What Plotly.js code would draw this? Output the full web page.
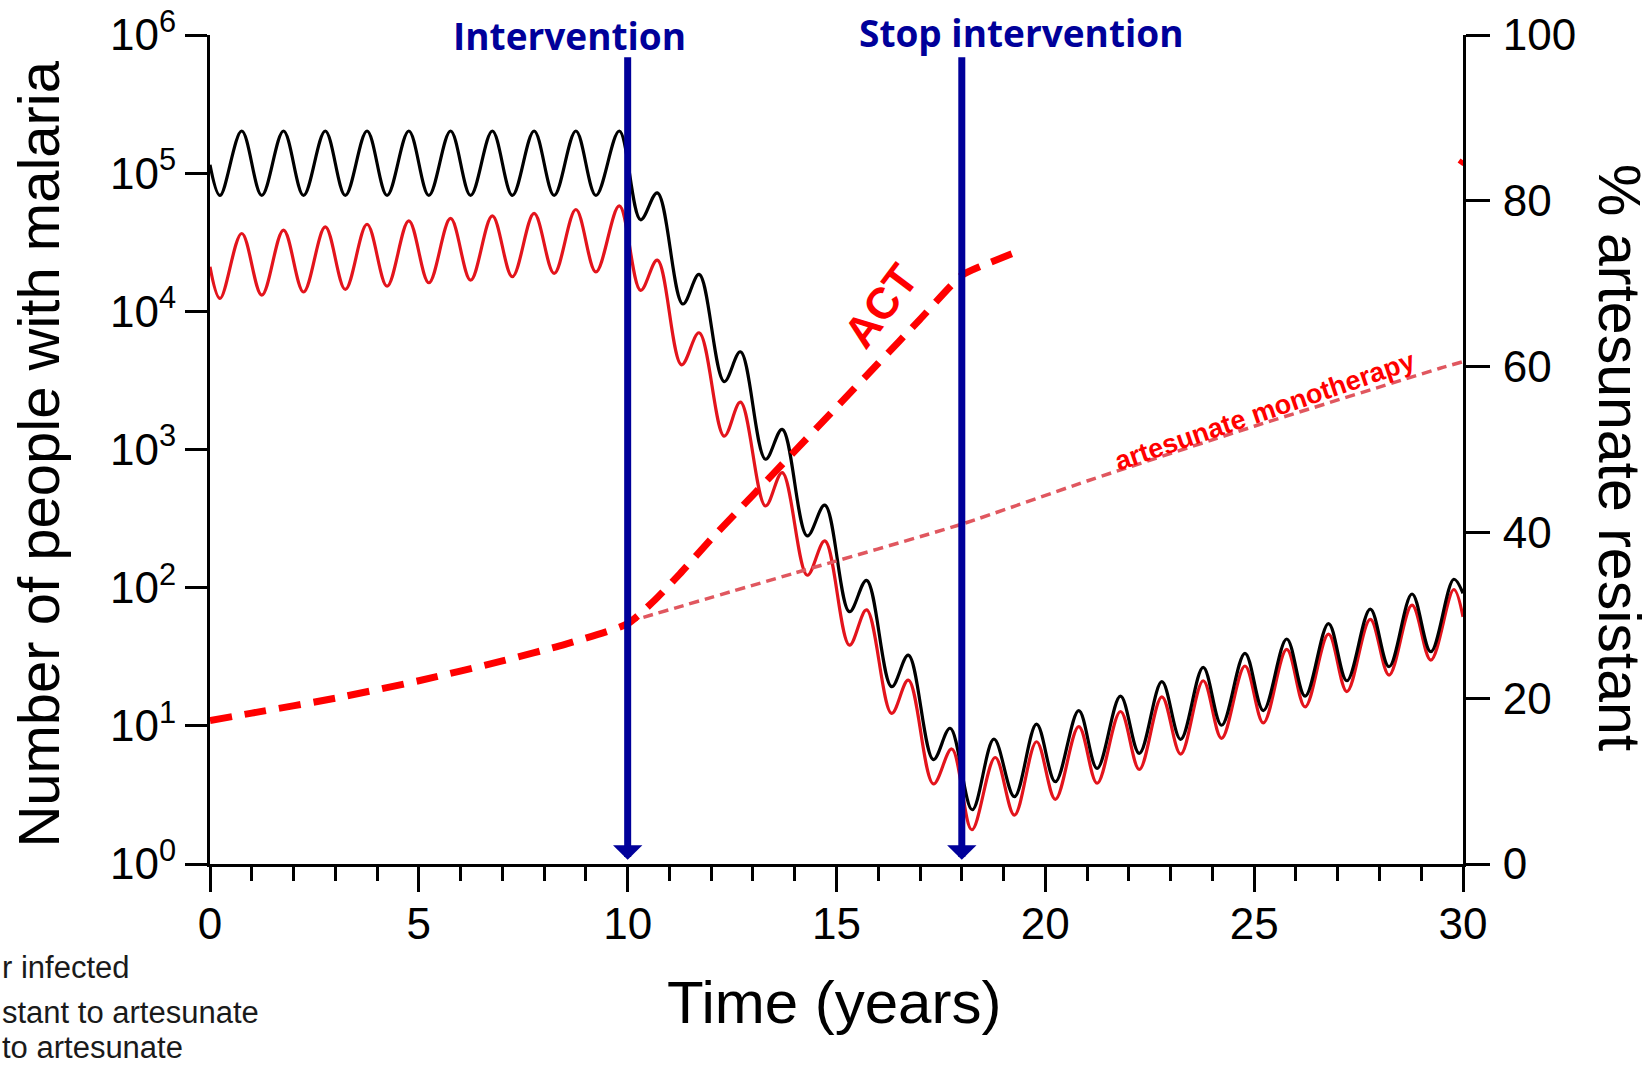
<!DOCTYPE html>
<html>
<head>
<meta charset="utf-8">
<script src="https://cdn.plot.ly/plotly-3.0.1.min.js"></script>
<style>
html, body { margin: 0; padding: 0; background: #ffffff; }
#chart { width: 1652px; height: 1069px; }
</style>
</head>
<body>
<div id="chart"></div>
<script>
// ---------- DATA ----------
// Total number infected (black)
const blackTime = [0, 0.24, 0.76, 1.24, 1.76, 2.24, 2.76, 3.24, 3.76, 4.24, 4.76, 5.24, 5.76, 6.24, 6.76, 7.24, 7.76, 8.24, 8.76, 9.24, 9.8,
  10.31, 10.71, 11.32, 11.71, 12.31, 12.70, 13.30, 13.70, 14.30, 14.72, 15.31, 15.72, 16.32, 16.72, 17.32, 17.72,
  18.25, 18.77, 19.26, 19.79, 20.24, 20.8, 21.24, 21.8, 22.25, 22.79, 23.24, 23.78, 24.22, 24.78, 25.22, 25.78,
  26.22, 26.78, 27.22, 27.78, 28.23, 28.78, 29.23, 29.78, 30];
const blackValues = [115000, 69000, 202000, 69000, 202000, 69000, 202000, 69000, 202000, 69000, 202000, 69000, 202000, 69000, 202000, 69000, 202000, 69000, 202000, 69000, 202000,
  46000, 72000, 11300, 18500, 3100, 5100, 850, 1400, 237, 396, 67, 113, 19.2, 32.5, 5.7, 9.6,
  2.47, 8.0, 3.07, 10.3, 3.94, 12.9, 4.92, 16.4, 6.32, 20.9, 7.98, 26.5, 10.1, 33.5, 12.9, 42.5,
  16.4, 55, 21.2, 70, 26.8, 90, 34.4, 115, 91];

// Number resistant to artesunate (red)
const redTime = [0, 0.24, 0.76, 1.24, 1.76, 2.24, 2.76, 3.24, 3.76, 4.24, 4.76, 5.24, 5.76, 6.24, 6.76, 7.24, 7.76, 8.24, 8.76, 9.24, 9.8,
  10.31, 10.71, 11.29, 11.71, 12.31, 12.70, 13.30, 13.70, 14.30, 14.72, 15.31, 15.72, 16.32, 16.72, 17.32, 17.76,
  18.24, 18.8, 19.26, 19.79, 20.24, 20.8, 21.24, 21.8, 22.25, 22.79, 23.24, 23.78, 24.22, 24.78, 25.22, 25.78,
  26.22, 26.78, 27.22, 27.78, 28.23, 28.78, 29.23, 29.78, 30];
const redValues = [21000, 12400, 36600, 13100, 38700, 13800, 40800, 14400, 42700, 15200, 45200, 16100, 47000, 16800, 49100, 17800, 51100, 18800, 54600, 19300, 58000,
  14200, 23500, 4100, 7000, 1250, 2200, 390, 680, 123, 218, 38.4, 69, 12.3, 21.4, 3.8, 6.8,
  1.77, 5.9, 2.26, 7.67, 2.94, 9.86, 3.84, 12.7, 4.84, 16.2, 6.25, 21.2, 8.12, 27.1, 10.5, 35.8,
  13.7, 46.1, 17.7, 59, 23.3, 74.8, 29.9, 97, 61.5];

// % artesunate resistant under ACT (thick dashed) — right axis
const actTime = [0, 1, 3, 5, 7, 8.5, 10, 10.6, 11.25, 12, 13, 14, 15, 16, 17, 18, 18.5, 19.3];
const actPercent = [17.3, 18.2, 20.0, 22.1, 24.5, 26.5, 29.0, 31.6, 35.0, 39.2, 44.5, 49.8, 55.1, 60.4, 65.7, 71.0, 72.2, 73.8];
const actEndTime = [29.93, 30];
const actEndPercent = [84.4, 84.9];

// % artesunate resistant under artesunate monotherapy (thin dashed) — right axis
const monoTime = [10, 14, 18, 21, 25, 29.45, 30];
const monoPercent = [29.2, 35.1, 41.0, 46.2, 52.8, 59.8, 60.6];

// Ticks and labels
const xTickVals = [0, 5, 10, 15, 20, 25, 30];
const yTickVals = [1, 10, 100, 1000, 10000, 100000, 1000000];
const yTickText = ['10<sup>0</sup>', '10<sup>1</sup>', '10<sup>2</sup>', '10<sup>3</sup>', '10<sup>4</sup>', '10<sup>5</sup>', '10<sup>6</sup>'];
const y2TickVals = [0, 20, 40, 60, 80, 100];
const interventionTimes = [10, 18];
const interventionLabels = ['Intervention', 'Stop intervention'];
const legendFragments = ['r infected', 'stant to artesunate', 'to artesunate'];
const xTitle = 'Time (years)';
const yTitle = 'Number of people with malaria';
const y2Title = '% artesunate resistant';

// ---------- STYLE ----------
const BLUE = '#00009a';
const RED_CURVE = '#e3141c';
const RED_TEXT = '#ff0000';
const MONO = '#e0575f';
const FONT = 'Liberation Sans, Arial, Helvetica, sans-serif';
const BOLDFONT = 'Open Sans, Noto Sans, sans-serif';

const traces = [
  { x: redTime, y: redValues, type: 'scatter', mode: 'lines', name: 'resistant',
    line: { color: RED_CURVE, width: 3.2, shape: 'spline', smoothing: 1 }, xaxis: 'x', yaxis: 'y', hoverinfo: 'skip' },
  { x: blackTime, y: blackValues, type: 'scatter', mode: 'lines', name: 'infected',
    line: { color: '#000000', width: 3.2, shape: 'spline', smoothing: 1 }, xaxis: 'x', yaxis: 'y', hoverinfo: 'skip' },
  { x: monoTime, y: monoPercent, type: 'scatter', mode: 'lines', name: 'artesunate monotherapy',
    line: { color: MONO, width: 3.5, dash: '10px,6px', shape: 'spline', smoothing: 0.6 }, xaxis: 'x', yaxis: 'y2', hoverinfo: 'skip' },
  { x: actTime, y: actPercent, type: 'scatter', mode: 'lines', name: 'ACT',
    line: { color: RED_TEXT, width: 7, dash: '22px,13px', shape: 'spline', smoothing: 0.6 }, xaxis: 'x', yaxis: 'y2', hoverinfo: 'skip' },
  { x: actEndTime, y: actEndPercent, type: 'scatter', mode: 'lines', name: 'ACT end',
    line: { color: RED_TEXT, width: 6 }, xaxis: 'x', yaxis: 'y2', hoverinfo: 'skip', cliponaxis: false }
];

const annotations = [];
// Blue intervention arrows
interventionTimes.forEach(function (t) {
  annotations.push({
    x: t, xref: 'x', y: 0.005, yref: 'paper',
    ax: 0, ay: -804, axref: 'pixel', ayref: 'pixel',
    text: '', showarrow: true, arrowhead: 1, arrowsize: 0.7, arrowwidth: 7, arrowcolor: BLUE
  });
});
const labelPos = [[0.2873, 0.9996], [0.6473, 1.0033]];
interventionLabels.forEach(function (lab, i) {
  annotations.push({
    x: labelPos[i][0], y: labelPos[i][1], xref: 'paper', yref: 'paper',
    xanchor: 'center', yanchor: 'middle', showarrow: false,
    text: '<b>' + lab + '</b>', font: { family: BOLDFONT, size: 37, color: BLUE }
  });
});
// Curve labels
annotations.push({ x: 16.05, xref: 'x', y: 0.674, yref: 'paper', text: '<b>ACT</b>', showarrow: false,
  textangle: -53, xanchor: 'center', yanchor: 'middle', font: { family: FONT, size: 44, color: RED_TEXT } });
annotations.push({ x: 25.25, xref: 'x', y: 0.547, yref: 'paper', text: '<b>artesunate monotherapy</b>', showarrow: false,
  textangle: -19, xanchor: 'center', yanchor: 'middle', font: { family: FONT, size: 27, color: RED_TEXT } });
// Axis titles
annotations.push({ x: -0.1365, y: 0.495, xref: 'paper', yref: 'paper', text: yTitle, showarrow: false,
  textangle: -90, xanchor: 'center', yanchor: 'middle', font: { family: FONT, size: 58, color: '#000' } });
annotations.push({ x: 1.1245, y: 0.4896, xref: 'paper', yref: 'paper', text: y2Title, showarrow: false,
  textangle: 90, xanchor: 'center', yanchor: 'middle', font: { family: FONT, size: 59, color: '#000' } });
annotations.push({ x: 0.4984, y: -0.1676, xref: 'paper', yref: 'paper', text: xTitle, showarrow: false,
  xanchor: 'center', yanchor: 'middle', font: { family: FONT, size: 60, color: '#000' } });
// Cut-off legend text at bottom-left
const legendY = [-0.1254, -0.1790, -0.2215];
legendFragments.forEach(function (txt, i) {
  annotations.push({ x: -0.1676, y: legendY[i], xref: 'paper', yref: 'paper', text: txt, showarrow: false,
    xanchor: 'left', yanchor: 'middle', font: { family: FONT, size: 31, color: '#1a1a1a' } });
});

const axisCommon = {
  showgrid: false, zeroline: false, showline: true, linecolor: '#000', linewidth: 3,
  ticks: 'outside', tickwidth: 3, tickcolor: '#000',
  tickfont: { family: FONT, size: 44, color: '#000' }, fixedrange: true
};

const layout = {
  width: 1652, height: 1069,
  margin: { l: 210, r: 189, t: 35, b: 205, pad: 0 },
  paper_bgcolor: '#ffffff', plot_bgcolor: '#ffffff',
  showlegend: false,
  font: { family: FONT, color: '#000' },
  xaxis: Object.assign({}, axisCommon, {
    range: [0, 30], tickvals: xTickVals, ticklen: 25, ticklabelstandoff: -6,
    minor: { dtick: 1, tick0: 0, ticks: 'outside', ticklen: 14, tickwidth: 3, tickcolor: '#000', showgrid: false }
  }),
  yaxis: Object.assign({}, axisCommon, {
    type: 'log', range: [0, 6], tickvals: yTickVals, ticktext: yTickText, ticklen: 22
  }),
  yaxis2: Object.assign({}, axisCommon, {
    range: [0, 100], tickvals: y2TickVals, ticklen: 24, overlaying: 'y', side: 'right', ticklabelstandoff: 4
  }),
  annotations: annotations
};

Plotly.newPlot('chart', traces, layout, { displayModeBar: false, staticPlot: true });
</script>
</body>
</html>
